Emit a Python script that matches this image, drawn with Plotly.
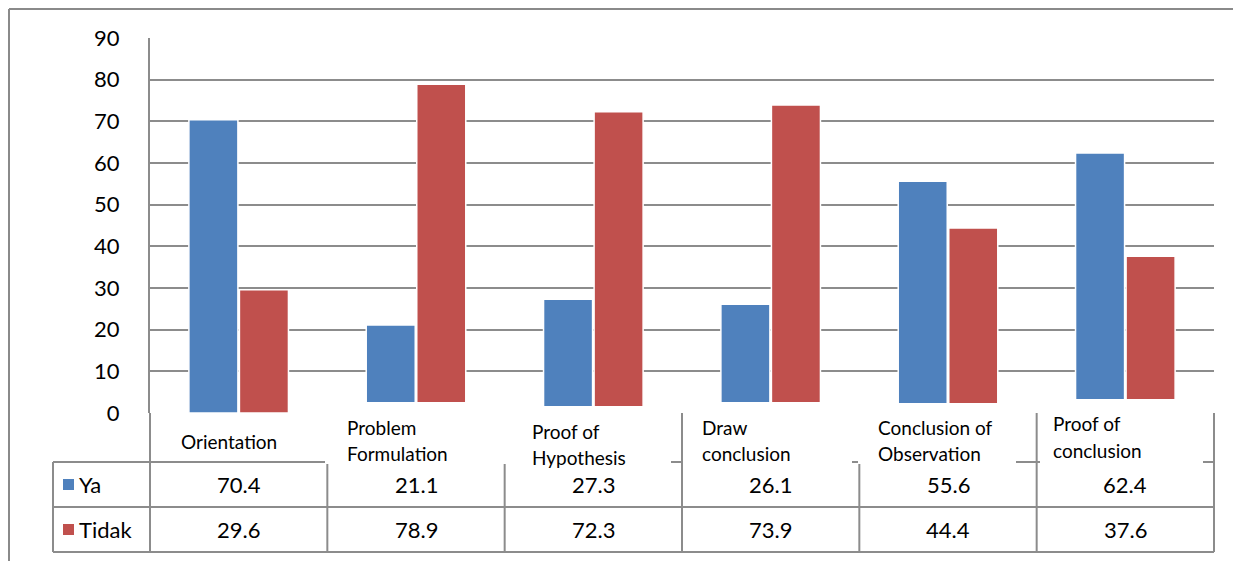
import plotly.graph_objects as go

categories = ["Orientation", "Problem Formulation", "Proof of Hypothesis",
              "Draw conclusion", "Conclusion of Observation", "Proof of conclusion"]
header_lines = [["Orientation"], ["Problem", "Formulation"], ["Proof of", "Hypothesis"],
                ["Draw", "conclusion"], ["Conclusion of", "Observation"], ["Proof of", "conclusion"]]
ya = [70.4, 21.1, 27.3, 26.1, 55.6, 62.4]
tidak = [29.6, 78.9, 72.3, 73.9, 44.4, 37.6]
series_names = ["Ya", "Tidak"]
y_ticks = [0, 10, 20, 30, 40, 50, 60, 70, 80, 90]

BLUE = "#4F81BD"
RED = "#C0504D"
GRID = "#8C8C8C"
FONT = "Lato"

OFF = 8  # page offset of the figure inside the browser window
W, H = 1241 - OFF, 561 - OFF
L, R, T, B = 150, 1214, 38, 413  # plot area in window pixels


def xp(px):
    return (px - L) / (R - L)


def yp(py):
    return (B - py) / (B - T)


fig = go.Figure()
fig.add_trace(go.Bar(x=categories, y=ya, name=series_names[0], marker_color=BLUE,
                     marker_line=dict(color="white", width=1.5)))
fig.add_trace(go.Bar(x=categories, y=tidak, name=series_names[1], marker_color=RED,
                     marker_line=dict(color="white", width=1.5)))

shapes = []
ann = []


def hline(y, x0, x1, xref="paper"):
    shapes.append(dict(type="line", xref=xref, yref="paper", x0=x0, x1=x1, y0=yp(y), y1=yp(y),
                       line=dict(color=GRID, width=2), layer="above"))


def vline(x, y0, y1, xref="paper"):
    shapes.append(dict(type="line", xref=xref, yref="paper", x0=x, x1=x, y0=yp(y0), y1=yp(y1),
                       line=dict(color=GRID, width=2), layer="above"))


# outer frame
shapes.append(dict(type="line", xref="paper", yref="paper", x0=xp(9), x1=xp(1260), y0=yp(9), y1=yp(9),
                   line=dict(color="#8A8A8A", width=2), layer="above"))
shapes.append(dict(type="line", xref="paper", yref="paper", x0=xp(9), x1=xp(9), y0=yp(9), y1=yp(580),
                   line=dict(color="#8A8A8A", width=2), layer="above"))

# data table lines
for yy in (462, 507, 552):
    hline(yy, xp(53), xp(R))
vline(xp(53), 462, 552)
vline(xp(L), 413, 552)
n = len(categories)
for i in range(1, n):
    vline(i - 0.5, 413, 552, xref="x")
vline(xp(R), 413, 552)

# white label boxes overlapping bars (as in reference)
boxes = [(325, 510, 402), (510, 671, 406), (683, 852, 402), (858, 1016, 403), (1040, 1203, 399)]
for x0, x1, top in boxes:
    shapes.append(dict(type="rect", xref="paper", yref="paper", x0=xp(x0), x1=xp(x1),
                       y0=yp(464), y1=yp(top), fillcolor="white", line=dict(width=0), layer="above"))

# legend keys
for yy, col in ((484, BLUE), (529, RED)):
    shapes.append(dict(type="rect", xref="paper", yref="paper", x0=xp(63), x1=xp(74),
                       y0=yp(yy + 6), y1=yp(yy - 5), fillcolor=col, line=dict(width=0), layer="above"))

for name, yy in zip(series_names, (484, 529)):
    ann.append(dict(xref="paper", yref="paper", x=xp(77), y=yp(yy), text=name, showarrow=False,
                    xanchor="left", yanchor="middle", font=dict(size=22, color="black", family=FONT)))

# values
for vals, yy in ((ya, 484), (tidak, 529)):
    for c, v in zip(categories, vals):
        ann.append(dict(xref="x", yref="paper", x=c, y=yp(yy), text=f"{v:.1f}", showarrow=False,
                        xanchor="center", yanchor="middle", font=dict(size=22, color="black", family=FONT)))

# header labels
header_pos = [(179, [441]), (345, [427, 453]), (530, [431, 457]), (700, [427, 453]),
              (876, [427, 453]), (1051, [423, 450])]
for lines, (lx, ys) in zip(header_lines, header_pos):
    for t, yy in zip(lines, ys):
        ann.append(dict(xref="paper", yref="paper", x=xp(lx), y=yp(yy), text=t, showarrow=False,
                        xanchor="left", yanchor="middle", font=dict(size=19, color="black", family=FONT)))

fig.update_layout(
    width=W, height=H,
    margin=dict(l=L - OFF, r=W - (R - OFF), t=T - OFF, b=H - (B - OFF), pad=0),
    paper_bgcolor="white", plot_bgcolor="white",
    barmode="group", bargap=0.43, bargroupgap=0.03,
    showlegend=False,
    shapes=shapes, annotations=ann,
    font=dict(family=FONT, color="black"),
)
fig.update_xaxes(showticklabels=False, showgrid=False, showline=False, zeroline=False, ticks="")
fig.update_yaxes(range=[0, 90], tickvals=y_ticks, showgrid=True, gridcolor=GRID, gridwidth=2,
                 zeroline=False, showline=True, linecolor=GRID, linewidth=2, ticks="",
                 ticklabelstandoff=24, tickfont=dict(size=22, color="black", family=FONT))

fig.write_html("out.html")
